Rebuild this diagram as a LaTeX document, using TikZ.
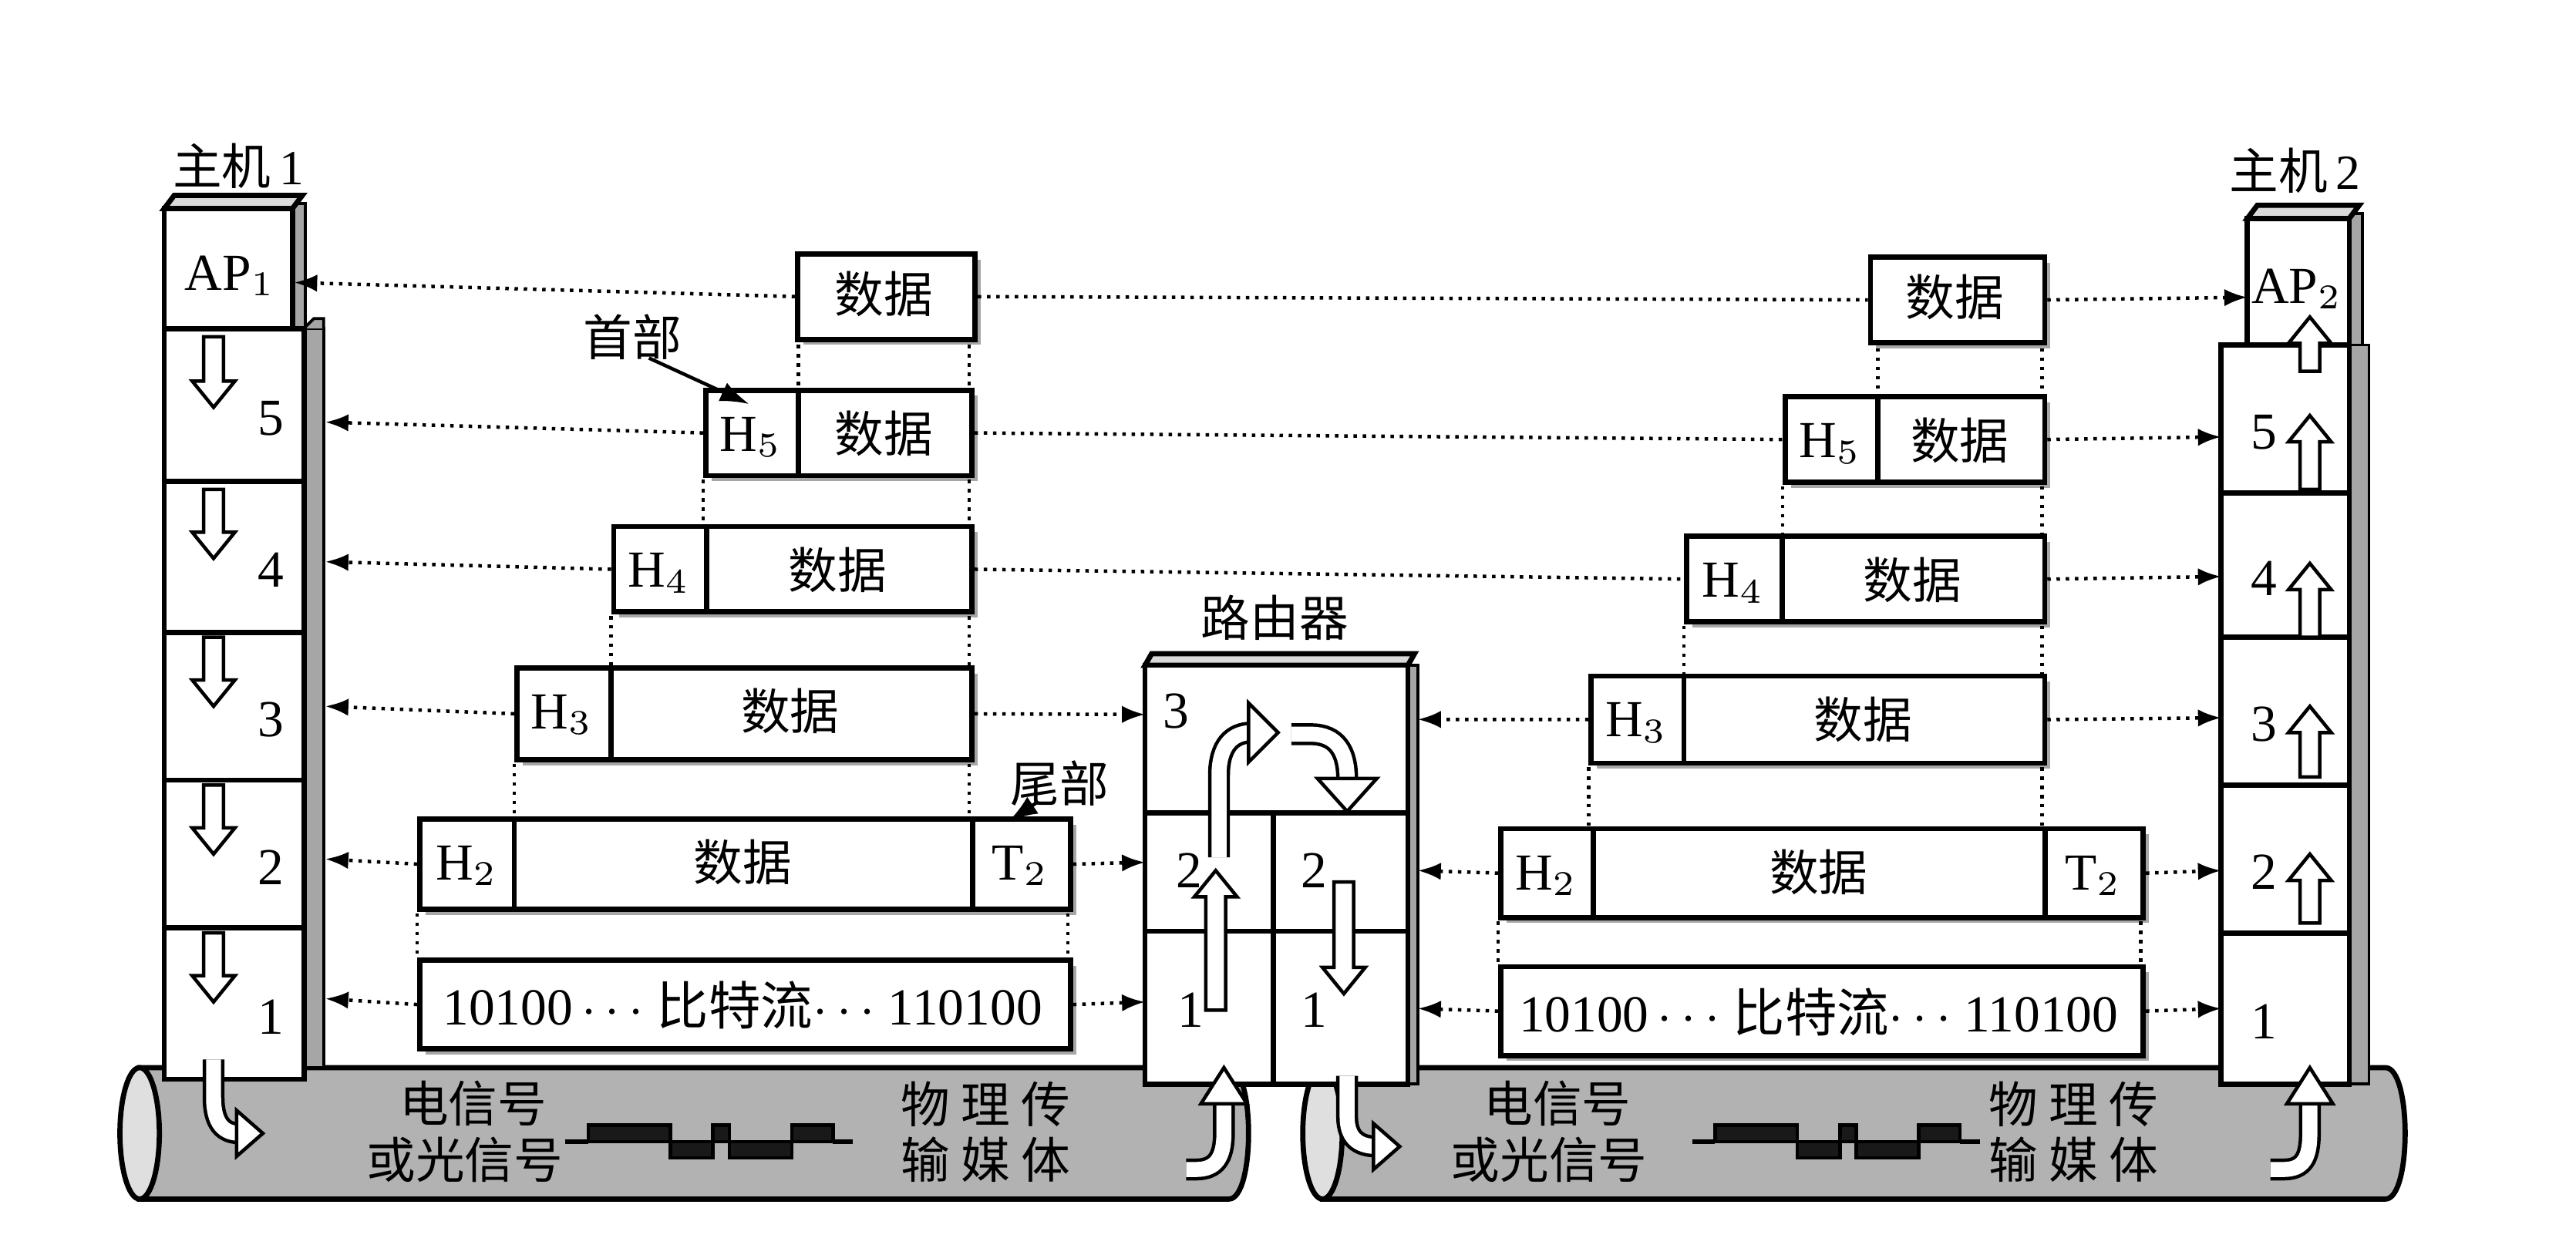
\documentclass[tikz,border=0pt]{standalone}
\usepackage{fontspec}
\usetikzlibrary{arrows.meta}
\newfontfamily\cjk{Noto Sans CJK SC}
\setmainfont{Liberation Serif}
\begin{document}
\begin{tikzpicture}[x=0.01cm,y=-0.01cm,
  tx/.style={font=\fontsize{9}{10}\selectfont, inner sep=0pt},
  ch/.style={font=\cjk\fontsize{8.5}{10}\selectfont, inner sep=0pt},
  pdu/.style={draw, line width=0.9pt, fill=white, inner sep=0pt},
  dots/.style={densely dotted, line width=0.6pt},
  darr/.style={densely dotted, line width=0.6pt, -{Latex[length=4pt,width=3pt]}},
  shade/.style={fill=gray!70, draw=black, line width=0.5pt},
  layer/.style={draw, line width=0.9pt, fill=white},
  blk/.style={draw, line width=0.6pt, fill=white}]
\useasboundingbox (0,0) rectangle (1568,764);
\fill[white] (0,0) rectangle (1568,764);
\newcommand\dn[3]{\draw[blk] (#1-6,#2) -- (#1+6,#2) -- (#1+6,#3-16) -- (#1+13,#3-16) -- (#1,#3) -- (#1-13,#3-16) -- (#1-6,#3-16) -- cycle;}
\newcommand\up[3]{\draw[blk] (#1-6,#2) -- (#1+6,#2) -- (#1+6,#3+16) -- (#1+13,#3+16) -- (#1,#3) -- (#1-13,#3+16) -- (#1-6,#3+16) -- cycle;}
\newcommand\curv[2]{\draw[line width=3.8pt, line cap=butt] #1; \draw[white, line width=2.6pt, line cap=butt] #1; \draw[blk, line join=miter] #2 -- cycle;}
\newcommand\pbox[6]{% name,x1,y1,x2,y2,text
  \fill[gray!70] (#2+5,#3+5) rectangle (#4+5,#5+5);
  \node[pdu, minimum width={(#4-#2)*0.01cm}, minimum height={(#5-#3)*0.01cm}, anchor=north west] (#1) at (#2,#3) {};
  \node[ch] at ({(#2+#4)/2},{(#3+#5)/2}) {#6};}
% cables
\draw[line width=0.9pt, fill=gray!60] (85,650) -- (748,650) .. controls (764,650) and (764,730) .. (748,730) -- (85,730) -- cycle;
\draw[line width=0.9pt, fill=gray!25] (85,690) ellipse [x radius=12, y radius=40];
\draw[line width=0.9pt, fill=gray!60] (805,650) -- (1452,650) .. controls (1468,650) and (1468,730) .. (1452,730) -- (805,730) -- cycle;
\draw[line width=0.9pt, fill=gray!25] (805,690) ellipse [x radius=12, y radius=40];
\node[ch] (e1) at (288,672) {电信号};
\node[ch] (e2) at (283,706) {或光信号};
\node[ch] (m1) at (600,672) {物\ 理\ 传};
\node[ch] (m2) at (600,706) {输\ 媒\ 体};
\node[ch] (e3) at (948,672) {电信号};
\node[ch] (e4) at (943,706) {或光信号};
\node[ch] (m3) at (1262,672) {物\ 理\ 传};
\node[ch] (m4) at (1262,706) {输\ 媒\ 体};
\newcommand\wave[1]{\draw[line width=0.8pt] (#1,695) -- ++(14,0); \draw[fill=gray!20!black, line width=0.6pt] (#1+14,695) rectangle ++(50,-10) (#1+64,695) rectangle ++(26,10) (#1+90,695) rectangle ++(10,-10) (#1+100,695) rectangle ++(38,10) (#1+138,695) rectangle ++(25,-10); \draw[line width=0.8pt] (#1+163,695) -- ++(12,0);}
\wave{344}\wave{1030}
% host 1
\node[ch] (h1) at (145,101) {主机\,{\rmfamily 1}};
\draw[shade] (178,124) rectangle (186,200);
\draw[layer] (100,127) rectangle (178,200);
\draw[layer, fill=gray!30] (100,127) -- (106,119) -- (184,119) -- (178,127) -- cycle;
\node[tx] (ap1) at (140,168) {AP$_1$};
\draw[shade] (185,200) rectangle (197,650);
\draw[shade] (185,200) -- (191,194) -- (197,194) -- (197,200);
\foreach \a/\b/\n in {200/293/5,293/385/4,385/475/3,475/565/2,565/657/1}{
  \draw[layer] (100,\a) rectangle (185,\b);
  \node[tx] at (165,{(\a+\b)/2+8}) {\n};}
\dn{130}{205}{248}\dn{130}{298}{340}\dn{130}{388}{430}\dn{130}{478}{520}\dn{130}{568}{610}
\curv{(130,645) -- (130,668) .. controls (130,684) and (136,690) .. (146,690)}{(144,676) -- (160,690) -- (144,704)}
% host 2
\node[ch] (h2) at (1397,104) {主机\,{\rmfamily 2}};
\draw[shade] (1430,130) rectangle (1438,210);
\draw[layer] (1368,133) rectangle (1430,210);
\draw[layer, fill=gray!30] (1368,133) -- (1374,125) -- (1436,125) -- (1430,133) -- cycle;
\node[tx] (ap2) at (1398,176) {AP$_2$};
\draw[shade] (1430,210) rectangle (1442,660);
\foreach \a/\b/\n in {210/300/5,300/388/4,388/478/3,478/568/2,568/660/1}{
  \draw[layer] (1352,\a) rectangle (1430,\b);
  \node[tx] at (1378,{(\a+\b)/2+8}) {\n};}
\up{1406}{226}{193}\up{1406}{298}{253}\up{1406}{388}{343}\up{1406}{473}{430}\up{1406}{562}{520}
\curv{(1382,712) -- (1390,712) .. controls (1402,712) and (1406,705) .. (1406,690) -- (1406,672)}{(1392,672) -- (1406,650) -- (1420,672)}
% router
\node[ch] (rt) at (776,376) {路由器};
\draw[shade] (857,405) rectangle (863,660);
\draw[layer, fill=gray!30] (697,405) -- (701,398) -- (861,398) -- (857,405) -- cycle;
\draw[layer] (697,405) rectangle (857,660);
\draw[line width=0.9pt] (697,495) -- (857,495) (697,567) -- (857,567) (775,495) -- (775,660);
\node[tx] (r3) at (716,433) {3};
\node[tx] (r2a) at (724,530) {2};
\node[tx] (r2b) at (800,530) {2};
\node[tx] (r1a) at (725,615) {1};
\node[tx] (r1b) at (800,615) {1};
\up{740}{615}{530}\dn{818}{537}{605}
\curv{(742,522) -- (742,472) .. controls (742,454) and (750,446) .. (762,446)}{(760,428) -- (778,446) -- (760,464)}
\curv{(786,447) -- (798,447) .. controls (814,447) and (820,458) .. (820,474)}{(802,474) -- (820,494) -- (838,474)}
\curv{(722,712) -- (728,712) .. controls (740,712) and (745,705) .. (745,690) -- (745,672)}{(731,672) -- (745,650) -- (759,672)}
\curv{(820,655) -- (820,680) .. controls (820,692) and (826,698) .. (838,698)}{(836,684) -- (852,698) -- (836,712)}
% left PDUs
\pbox{la}{484}{153}{592}{205}{数据}
\pbox{l5}{428}{236}{590}{288}{}
\draw[line width=0.9pt] (486,236) -- (486,288);
\node[tx] at (457,266) {H$_5$}; \node[ch] at (538,264) {数据};
\pbox{l4}{372}{319}{590}{371}{}
\draw[line width=0.9pt] (430,319) -- (430,371);
\node[tx] at (401,349) {H$_4$}; \node[ch] at (510,347) {数据};
\pbox{l3}{313}{405}{590}{461}{}
\draw[line width=0.9pt] (372,405) -- (372,461);
\node[tx] at (342,435) {H$_3$}; \node[ch] at (481,433) {数据};
\pbox{l2}{254}{497}{650}{552}{}
\draw[line width=0.9pt] (313,497) -- (313,552) (592,497) -- (592,552);
\node[tx] at (284,527) {H$_2$}; \node[ch] at (452,525) {数据}; \node[tx] at (621,527) {T$_2$};
\pbox{l1}{254}{583}{650}{637}{}
\node[tx] at (452,612) {10100\,$\cdots$\ {\cjk 比特流}$\cdots$\ 110100};
% right PDUs
\pbox{ra}{1137}{155}{1243}{207}{数据}
\pbox{r5}{1085}{240}{1243}{292}{}
\draw[line width=0.9pt] (1143,240) -- (1143,292);
\node[tx] at (1114,270) {H$_5$}; \node[ch] at (1193,268) {数据};
\pbox{r4}{1025}{325}{1243}{377}{}
\draw[line width=0.9pt] (1085,325) -- (1085,377);
\node[tx] at (1055,355) {H$_4$}; \node[ch] at (1164,353) {数据};
\pbox{r3}{967}{410}{1243}{463}{}
\draw[line width=0.9pt] (1025,410) -- (1025,463);
\node[tx] at (996,440) {H$_3$}; \node[ch] at (1134,438) {数据};
\pbox{r2}{912}{503}{1303}{557}{}
\draw[line width=0.9pt] (970,503) -- (970,557) (1245,503) -- (1245,557);
\node[tx] at (941,533) {H$_2$}; \node[ch] at (1107,531) {数据}; \node[tx] at (1274,533) {T$_2$};
\pbox{r1}{912}{587}{1303}{641}{}
\node[tx] at (1107,616) {10100\,$\cdots$\ {\cjk 比特流}$\cdots$\ 110100};
% vertical dotted links
\draw[dots] (486,210)--(486,236) (590,210)--(590,236) (428,292)--(428,319) (590,292)--(590,319)
  (372,375)--(372,405) (590,375)--(590,405) (313,465)--(313,497) (590,465)--(590,497)
  (254,556)--(254,583) (650,556)--(650,583);
\draw[dots] (1143,212)--(1143,240) (1243,212)--(1243,240) (1085,296)--(1085,325) (1243,296)--(1243,325)
  (1025,381)--(1025,410) (1243,381)--(1243,410) (967,467)--(967,503) (1243,467)--(1243,503)
  (912,561)--(912,587) (1303,561)--(1303,587);
% horizontal dotted arrows
\draw[darr] (la.west) -- (179,172);
\draw[darr] (l5.west) -- (198,257);
\draw[darr] (l4.west) -- (198,342);
\draw[darr] (l3.west) -- (198,430);
\draw[darr] (l2.west) -- (198,523);
\draw[darr] (l1.west) -- (198,608);
\draw[dots] (la.east) -- (ra.west);
\draw[dots] (l5.east) -- (r5.west);
\draw[dots] (l4.east) -- (r4.west);
\draw[darr] (l3.east) -- (697,435);
\draw[darr] (l2.east) -- (697,525);
\draw[darr] (l1.east) -- (697,610);
\draw[darr] (r3.west) -- (863,438);
\draw[darr] (r2.west) -- (863,530);
\draw[darr] (r1.west) -- (863,614);
\draw[darr] (ra.east) -- (1368,181);
\draw[darr] (r5.east) -- (1352,266);
\draw[darr] (r4.east) -- (1352,351);
\draw[darr] (r3.east) -- (1352,437);
\draw[darr] (r2.east) -- (1352,530);
\draw[darr] (r1.east) -- (1352,614);
% labels
\node[ch] (sb) at (385,205) {首部};
\draw[-{Latex[length=5pt,width=3.5pt]}, line width=0.6pt] (395,218) -- (456,246);
\node[ch] (wb) at (645,477) {尾部};
\draw[-{Latex[length=5pt,width=3.5pt]}, line width=0.6pt] (632,488) -- (614,500);
\end{tikzpicture}
\end{document}
